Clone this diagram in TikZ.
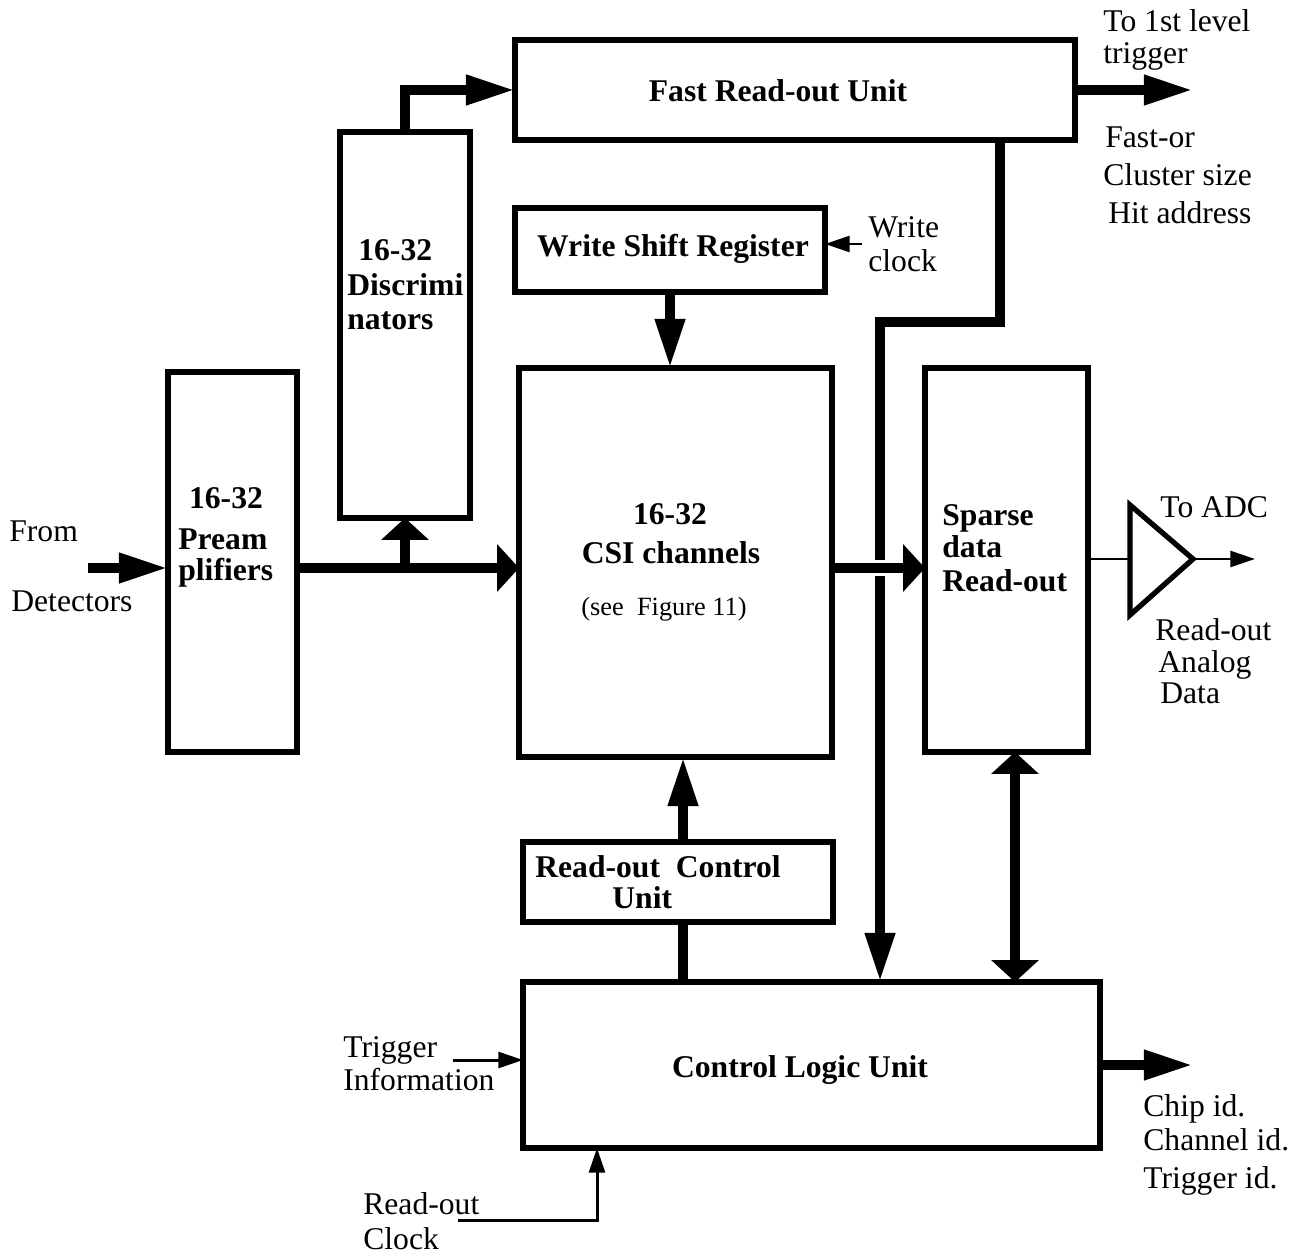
\documentclass[tikz,border=0pt]{standalone}
\usepackage{fontspec}
\setmainfont{Liberation Serif}
\usetikzlibrary{arrows.meta}
\begin{document}
\begin{tikzpicture}[x=0.02cm,y=-0.02cm,
  box/.style={draw, line width=3pt, inner sep=0pt, outer sep=0pt},
  bus/.style={line width=5.7pt, line join=miter},
  thinl/.style={line width=1.7pt},
  lbl/.style={inner sep=0pt, anchor=base west, font=\fontsize{18pt}{21pt}\selectfont},
  blbl/.style={inner sep=0pt, anchor=base west, font=\fontsize{18pt}{21pt}\selectfont\bfseries},
  longtip/.tip={Triangle[length=28pt,width=16pt]},
  widetip/.tip={Triangle[length=12.5pt,width=26.5pt]},
  thintip/.tip={Triangle[length=14pt,width=9pt]},
]
\useasboundingbox (0,0) rectangle (1301,1256);

% boxes
\node[box, minimum width=11.2cm, minimum height=2cm] (fru) at (795,90) {};
\node[box, minimum width=2.6cm, minimum height=7.72cm] (disc) at (405,325) {};
\node[box, minimum width=6.2cm, minimum height=1.68cm] (wsr) at (670,250) {};
\node[box, minimum width=2.58cm, minimum height=7.6cm] (pre) at (232.5,562) {};
\node[box, minimum width=6.26cm, minimum height=7.78cm] (csi) at (675.5,562.5) {};
\node[box, minimum width=3.26cm, minimum height=7.68cm] (sdr) at (1006.5,560) {};
\node[box, minimum width=6.2cm, minimum height=1.6cm] (rcu) at (678,882) {};
\node[box, minimum width=11.54cm, minimum height=3.32cm] (clu) at (811.5,1065) {};
\draw[line width=3pt, line join=miter] (1130,505) coordinate (ta) -- (1193,559) coordinate (tapex) -- (1130,615) coordinate (tb) -- cycle;

% box labels
\node[blbl, anchor=base] (tfru) at (778,102) {Fast Read-out Unit};
\node[blbl, anchor=base] (twsr) at (673,257) {Write Shift Register};
\node[blbl] (td1) at (358,261) {16-32};
\node[blbl] (td2) at (347,296) {Discrimi};
\node[blbl] (td3) at (347,330) {nators};
\node[blbl, anchor=base] (tp1) at (226,508) {16-32};
\node[blbl] (tp2) at (178,549) {Pream};
\node[blbl] (tp3) at (178,580) {plifiers};
\node[blbl, anchor=base] (tc1) at (670,524) {16-32};
\node[blbl, anchor=base] (tc2) at (671,563) {CSI channels};
\node[lbl, anchor=base, font=\fontsize{15pt}{18pt}\selectfont] (tc3) at (664,615) {(see\ \ Figure 11)};
\node[blbl] (ts1) at (942,525) {Sparse};
\node[blbl] (ts2) at (942,557) {data};
\node[blbl] (ts3) at (942,591) {Read-out};
\node[blbl] (tr1) at (535,877) {Read-out\ \ Control};
\node[blbl] (tr2) at (612,908) {Unit};
\node[blbl, anchor=base] (tcl) at (800,1077) {Control Logic Unit};

% free labels
\node[lbl] (l1) at (1103,32) {To 1st level};
\node[lbl] (l2) at (1103,64) {trigger};
\node[lbl] (l3) at (1105,148) {Fast-or};
\node[lbl] (l4) at (1103,186) {Cluster size};
\node[lbl] (l5) at (1108,224) {Hit address};
\node[lbl] (l6) at (868,238) {Write};
\node[lbl] (l7) at (868,272) {clock};
\node[lbl] (l8) at (9,541) {From};
\node[lbl] (l9) at (11,611) {Detectors};
\node[lbl] (l10) at (1160,518) {To ADC};
\node[lbl] (l11) at (1155,640) {Read-out};
\node[lbl] (l12) at (1158,672) {Analog};
\node[lbl] (l13) at (1160,703) {Data};
\node[lbl] (l14) at (343,1057) {Trigger};
\node[lbl] (l15) at (343,1090) {Information};
\node[lbl] (l16) at (363,1214) {Read-out};
\node[lbl] (l17) at (363,1249) {Clock};
\node[lbl] (l18) at (1143,1116) {Chip id.};
\node[lbl] (l19) at (1143,1150) {Channel id.};
\node[lbl] (l20) at (1143,1188) {Trigger id.};

% connectors
\coordinate (fromd) at (88,568);
\coordinate (br) at (405,568);
\coordinate (j1) at (1000,322);
\coordinate (j2) at (880,322);
\coordinate (tofirst) at (1193,90);
\coordinate (wclk) at (862,244);
\coordinate (cx) at (683,0);
\coordinate (dx) at (1015,0);
\coordinate (chipo) at (1193,1065);
\coordinate (trig) at (453,1060);
\coordinate (rclk) at (458,1220);
\coordinate (rclkc) at (597,1220);
\coordinate (adc) at (1255,559);

\draw[bus,-{longtip}] (fromd) -- (fromd -| pre.west);
\draw[bus,-{widetip}] (pre.east |- fromd) -- (csi.west |- fromd);
\draw[bus,-{widetip}] (br) -- (disc.south);
\draw[bus,-{longtip}] (disc.north) |- (fru.west);
\draw[bus,-{longtip}] (fru.east) -- (tofirst);
\draw[bus,-{longtip}] (j1 |- fru.south) -- (j1) -- (j2) -- (j2 |- clu.north);
\coordinate (cross) at (j2 |- fromd);
\draw[white, line width=9pt] ([xshift=-10pt]cross) -- ([xshift=10pt]cross);
\draw[bus,-{widetip}] (csi.east |- fromd) -- (sdr.west |- fromd);
\draw[bus,-{longtip}] (wsr.south) -- (wsr.south |- csi.north);
\draw[thinl,-{thintip}] (wclk) -- (wclk -| wsr.east);
\draw[bus,-{longtip}] (rcu.north -| cx) -- (csi.south -| cx);
\draw[bus] (clu.north -| cx) -- (rcu.south -| cx);
\draw[bus,{widetip}-{widetip}] (sdr.south -| dx) -- (clu.north -| dx);
\draw[bus,-{longtip}] (clu.east) -- (chipo);
\draw[thinl,-{thintip}] (trig) -- (trig -| clu.west);
\draw[thinl,-{thintip}] (rclk) -- (rclkc) -- (rclkc |- clu.south);
\draw[thinl] (sdr.east |- tapex) -- (tapex -| ta);
\draw[thinl,-{thintip}] (tapex) -- (adc);
\end{tikzpicture}
\end{document}
